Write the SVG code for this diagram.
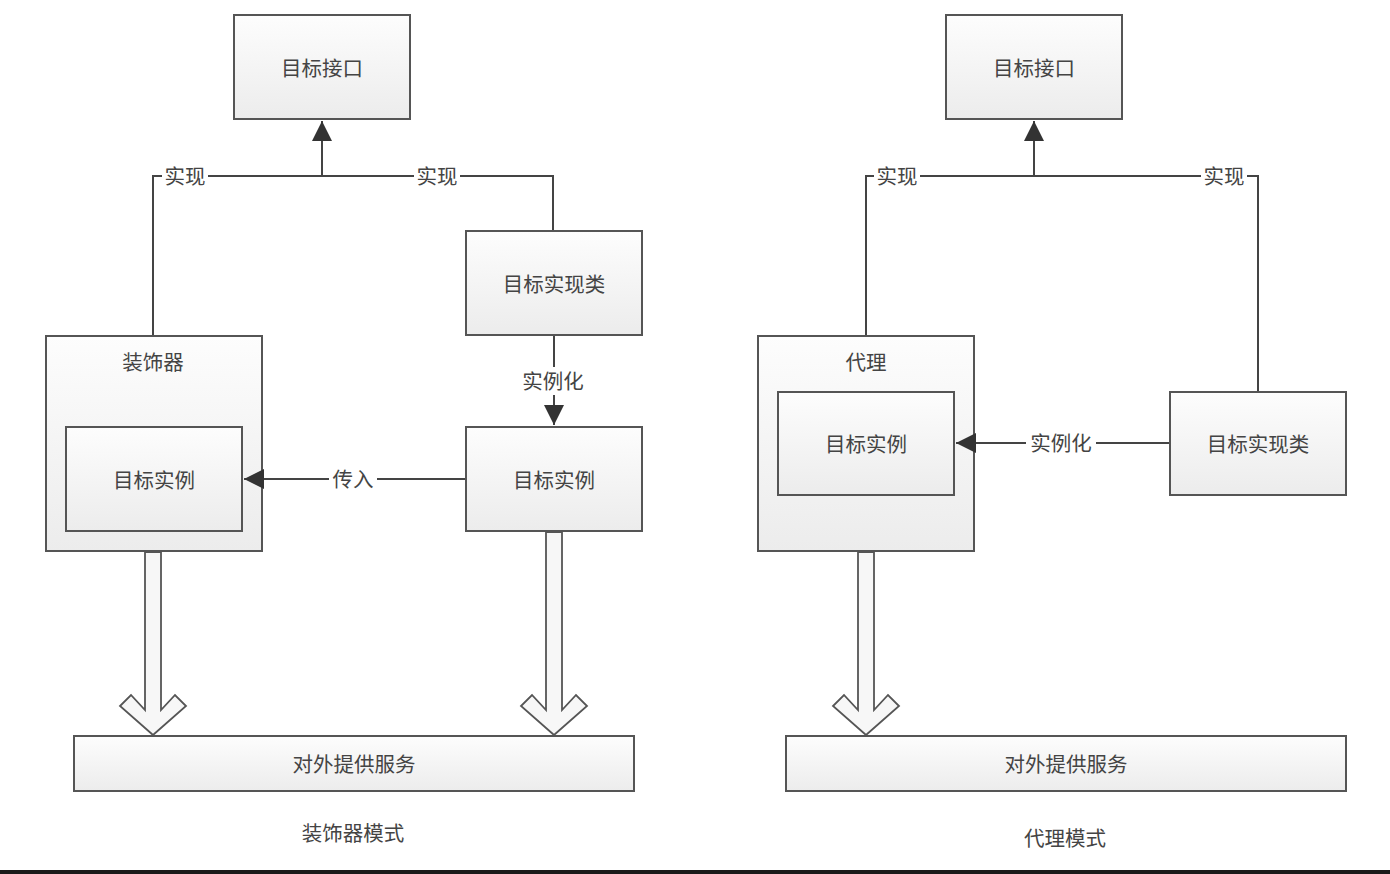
<svg xmlns="http://www.w3.org/2000/svg" width="1390" height="874" viewBox="0 0 1390 874">
<defs>
<linearGradient id="g" x1="0" y1="0" x2="0" y2="1">
<stop offset="0" stop-color="#fdfdfd"/>
<stop offset="1" stop-color="#ececec"/>
</linearGradient>
<marker id="ahb" viewBox="0 0 10 10" refX="10" refY="5" markerWidth="20" markerHeight="20" markerUnits="userSpaceOnUse" orient="auto">
<path d="M0,0 L10,5 L0,10 Z" fill="#333"/>
</marker>
</defs>
<style>
.box{fill:url(#g);stroke:#555;stroke-width:2}
.t{font-family:"Noto Sans CJK SC","Noto Sans",sans-serif;font-size:20.5px;fill:#444;text-anchor:middle;dominant-baseline:central}
.ln{fill:none;stroke:#444;stroke-width:2}
.lb{fill:#fff}
.ba{fill:#f7f7f7;stroke:#555;stroke-width:1.8;stroke-linejoin:miter}
</style>
<rect x="0" y="0" width="1390" height="874" fill="#fff"/>
<rect x="0" y="870" width="1390" height="4" fill="#1a1a1a"/>

<g id="iface-left">
<rect class="box" x="234" y="15" width="176" height="104"/>
<text class="t" x="322" y="67">目标接口</text>
</g>
<g id="iface-right">
<rect class="box" x="946" y="15" width="176" height="104"/>
<text class="t" x="1034" y="67">目标接口</text>
</g>
<g id="impl-left">
<rect class="box" x="466" y="231" width="176" height="104"/>
<text class="t" x="554" y="283">目标实现类</text>
</g>
<g id="instance-left">
<rect class="box" x="466" y="427" width="176" height="104"/>
<text class="t" x="554" y="479">目标实例</text>
</g>
<g id="decorator">
<rect class="box" x="46" y="336" width="216" height="215"/>
<text class="t" x="153" y="361">装饰器</text>
</g>
<g id="decorator-inner">
<rect class="box" x="66" y="427" width="176" height="104"/>
<text class="t" x="154" y="479">目标实例</text>
</g>
<g id="service-left">
<rect class="box" x="74" y="736" width="560" height="55"/>
<text class="t" x="354" y="763">对外提供服务</text>
</g>
<g id="proxy">
<rect class="box" x="758" y="336" width="216" height="215"/>
<text class="t" x="866" y="361">代理</text>
</g>
<g id="proxy-inner">
<rect class="box" x="778" y="392" width="176" height="103"/>
<text class="t" x="866" y="443">目标实例</text>
</g>
<g id="impl-right">
<rect class="box" x="1170" y="392" width="176" height="103"/>
<text class="t" x="1258" y="443">目标实现类</text>
</g>
<g id="service-right">
<rect class="box" x="786" y="736" width="560" height="55"/>
<text class="t" x="1066" y="763">对外提供服务</text>
</g>
<g id="captions">
<text class="t" x="353" y="832">装饰器模式</text>
<text class="t" x="1065" y="837">代理模式</text>
</g>

<g id="connectors">
<path class="ln" d="M153,335 V176 H553 V230"/>
<path class="ln" d="M322,176 V121" marker-end="url(#ahb)"/>
<path class="ln" d="M554,336 V425" marker-end="url(#ahb)"/>
<path class="ln" d="M465,479 H244" marker-end="url(#ahb)"/>
<rect class="lb" x="162" y="163" width="46" height="26"/>
<text class="t" x="185" y="175">实现</text>
<rect class="lb" x="414" y="163" width="46" height="26"/>
<text class="t" x="437" y="175">实现</text>
<rect class="lb" x="518" y="367" width="70" height="28"/>
<text class="t" x="553" y="380">实例化</text>
<rect class="lb" x="329" y="466" width="48" height="26"/>
<text class="t" x="353" y="478">传入</text>
<path class="ln" d="M866,335 V176 H1258 V391"/>
<path class="ln" d="M1034,176 V121" marker-end="url(#ahb)"/>
<path class="ln" d="M1169,443 H956" marker-end="url(#ahb)"/>
<rect class="lb" x="874" y="163" width="46" height="26"/>
<text class="t" x="897" y="175">实现</text>
<rect class="lb" x="1201" y="163" width="46" height="26"/>
<text class="t" x="1224" y="175">实现</text>
<rect class="lb" x="1026" y="430" width="70" height="28"/>
<text class="t" x="1061" y="442">实例化</text>
<polygon class="ba" points="145,552 161,552 161,710 175,695 186,706 153,735 120,706 131,695 145,710"/>
<polygon class="ba" points="546,532 562,532 562,710 576,695 587,706 554,735 521,706 532,695 546,710"/>
<polygon class="ba" points="858,552 874,552 874,710 888,695 899,706 866,735 833,706 844,695 858,710"/>
</g>
</svg>
